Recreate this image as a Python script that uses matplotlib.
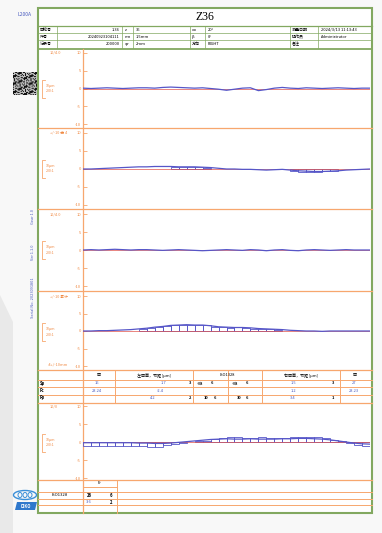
import numpy as np
import matplotlib.pyplot as plt
from matplotlib.patches import Ellipse, Polygon, Rectangle

plt.rcParams['font.family'] = ['Noto Sans CJK SC', 'DejaVu Sans']

W, H = 382, 533

# ---- values (um) ----
tooth = list(range(1, 37))
edge = [t - 0.5 for t in range(1, 38)]

p1_line = [0.1, 0.0, 0.1, 0.2, 0.1, 0.0, 0.1, 0.2, 0.2, 0.1, 0.3, 0.4, 0.3, 0.2, 0.1, 0.2, 0.0,
           -0.2, -0.5, -0.2, 0.1, 0.2, -0.6, -0.3, 0.1, 0.3, 0.1, 0.0, 0.2, 0.1, 0.0, 0.1, 0.2,
           0.1, 0.0, 0.1, 0.1]
p2_line = [0.0, 0.0, 0.1, 0.2, 0.3, 0.4, 0.5, 0.6, 0.6, 0.7, 0.7, 0.7, 0.6, 0.6, 0.6, 0.5, 0.4,
           0.2, 0.0, 0.0, -0.1, -0.1, -0.2, -0.3, -0.2, -0.1, -0.3, -0.5, -0.6, -0.7, -0.7, -0.6,
           -0.5, -0.3, -0.2, -0.1, 0.0]
p2_bars = [0, 0, 0, 0, 0, 0, 0, 0, 0, 0, 0, 0.5, 0.6, 0.6, 0.5, 0.4, 0, 0, 0, 0, 0, 0, 0, 0,
           0, 0, -0.5, -0.7, -0.8, -0.7, -0.6, -0.5, 0, 0, 0, 0]
p3_line = [0.0, 0.1, 0.0, 0.1, 0.2, 0.1, 0.0, 0.1, 0.1, 0.0, -0.1, 0.0, 0.1, 0.0, -0.1, -0.2,
           -0.1, 0.0, 0.1, 0.0, -0.1, 0.1, 0.0, -0.2, 0.0, 0.1, -0.1, -0.2, 0.0, 0.1, 0.0, -0.1,
           0.0, 0.1, 0.0, 0.0, 0.0]
p4_line = [0.0, 0.0, 0.1, 0.1, 0.2, 0.3, 0.4, 0.6, 0.8, 1.1, 1.3, 1.6, 1.7, 1.8, 1.7, 1.7, 1.5,
           1.2, 1.1, 1.0, 1.0, 0.9, 0.7, 0.6, 0.5, 0.4, 0.2, 0.1, 0.0, 0.0, -0.1, 0.0, 0.0, 0.0,
           0.0, 0.0, 0.0]
p4_bars = [0, 0, 0, 0, 0, 0, 0, 0.6, 0.9, 1.1, 1.4, 1.7, 1.8, 1.7, 1.8, 1.6, 1.2, 1.1, 1.0, 1.1,
           0.9, 0.7, 0.6, 0.5, 0.4, 0, 0, 0, 0, 0, 0, 0, 0, 0, 0, 0]
p5_line = [-0.2, -0.2, -0.2, -0.2, -0.2, -0.2, -0.2, -0.3, -0.3, -0.4, -0.4, -0.3, -0.1, 0.1,
           0.3, 0.5, 0.7, 0.8, 0.9, 0.8, 0.8, 0.9, 0.8, 0.8, 0.8, 0.9, 0.9, 1.0, 1.0, 0.9, 0.8,
           0.6, 0.3, 0.0, -0.3, -0.5, -0.6]
p5_bars = [-1.1, -1.1, -1.1, -1.1, -1.1, -1.1, -1.1, -1.2, -1.3, -1.3, -0.8, -0.5, -0.2, 0,
           0.2, 0.3, 0.8, 1.0, 1.4, 1.4, 1.1, 1.2, 1.5, 1.1, 1.0, 1.1, 1.4, 1.5, 1.5, 1.3, 1.0,
           0.6, 0.2, -0.3, -0.8, -1.0]
ticks = [10, 5, 0, -5, -10]

header_rows = [
    ['齿轮号', '1:36', 'z', '36', 'αn', '20°', '测量日期', '2024/3/13 11:13:43'],
    ['件号', '20240923104111', 'mn', '1.5mm', 'β', '0°', '操作员', 'Administrator'],
    ['记录号', '200000', 'φr', '2mm', '方向', 'RIGHT', '备注', ''],
]
table_head = ['齿', '左齿面，节距 [μm]', 'ISO1328', '右齿面，节距 [μm]', '齿']
row_names = ['Sp', 'Fc', 'Fp']

ORANGE = '#f7a76e'
ORTXT = '#f08a44'
GREEN = '#82a860'
BLUE = '#5656c8'
RED = '#e2554c'
TBLUE = '#4a5cc0'

fig = plt.figure(figsize=(W / 100, H / 100), dpi=100, facecolor='#f8f8f8')

ov = fig.add_axes([0, 0, 1, 1])
ov.set_xlim(0, W)
ov.set_ylim(H, 0)
ov.axis('off')

# photo background
ov.add_patch(Polygon([(0, 295), (13, 322), (13, 533), (0, 533)], color='#e9e9e9', lw=0))
ov.add_patch(Rectangle((38, 8), 334, 505, facecolor='white', edgecolor=GREEN, lw=1.5))
ov.text(17, 14, 'L200A', fontsize=3.6, color=TBLUE, va='center')

# title + header
ov.plot([38, 372], [26, 26], color=GREEN, lw=0.9)
ov.text(205, 17, 'Z36', fontsize=8.5, family='Liberation Serif', ha='center', va='center')
for y in [33, 40]:
    ov.plot([38, 372], [y, y], color=GREEN, lw=0.5)
ov.plot([38, 372], [48.5, 48.5], color=GREEN, lw=1.3)
for x in [57, 122, 133, 190, 205, 290, 318]:
    ov.plot([x, x], [26, 48], color=GREEN, lw=0.5)
hx = [(40, 'left'), (120, 'right'), (125, 'left'), (136, 'left'), (192, 'left'),
      (208, 'left'), (292, 'left'), (321, 'left')]
for r, row in enumerate(header_rows):
    for (x, ha), s in zip(hx, row):
        ov.text(x, 29.8 + 7 * r, s, fontsize=2.9, ha=ha, va='center')

# noise block and side text
pat = np.array([[((i * i + 3 * j + i * j) % 5 < 2) ^ ((i + 2 * j) % 3 == 0) for j in range(22)]
                for i in range(22)], dtype=float)
ov.imshow(pat, cmap='Greys', extent=[13, 37, 95, 72], aspect='auto', vmin=-0.6, vmax=1.1)
ov.set_xlim(0, W)
ov.set_ylim(H, 0)
for y, s in [(216, 'Gear 1.0'), (252, 'Ver 1.1.0'), (298, 'Serial No. 2023091801')]:
    ov.text(33, y, s, fontsize=2.8, color=TBLUE, rotation=90, ha='center', va='center')

# separators and axis line
for y in [128, 209, 291, 370, 402.5, 480]:
    ov.plot([38, 372], [y, y], color=ORANGE, lw=0.9)
ov.plot([83, 83], [49, 513], color=ORANGE, lw=0.9)

# panel labels and scale brackets
labels = [('10/4.0', 53, 89), ('+/-10 齿 4', 133, 169), ('10/4.0', 214, 250),
          ('+/-10 累计', 296, 332), ('10/0', 406, 443)]
for s, ly, cy in labels:
    ov.text(50, ly, s, fontsize=2.8, color=ORTXT, va='center')
    ov.plot([45, 42, 42, 45], [cy - 9, cy - 9, cy + 9, cy + 9], color=ORANGE, lw=0.6)
    ov.text(46, cy - 3, '10μm', fontsize=2.6, color=ORTXT, va='center')
    ov.text(46, cy + 2.5, '200:1', fontsize=2.6, color=ORTXT, va='center')
ov.text(48, 365, '-4+/-10mm', fontsize=2.8, color=ORTXT, va='center')

# pitch table
for y in [380, 387, 394.5]:
    ov.plot([38, 372], [y, y], color=ORANGE, lw=0.7)
for x in [115, 193, 228, 262, 340]:
    ov.plot([x, x], [370, 402.5], color=ORANGE, lw=0.7)
for x, s in zip([99, 154, 227, 301, 355], table_head):
    ov.text(x, 375.5, s, fontsize=2.9, ha='center', va='center')
cells = [
    [(97, '16', TBLUE), (163, '1.7', TBLUE), (190, '3', 'k'), (200, '≤8', 'k'), (212, '6', 'k'),
     (235, '≤8', 'k'), (247, '6', 'k'), (293, '1.5', TBLUE), (333, '3', 'k'), (354, '27', TBLUE)],
    [(97, '23.24', TBLUE), (160, '-2.4', TBLUE), (293, '1.2', TBLUE), (354, '23.23', TBLUE)],
    [(153, '4.2', TBLUE), (190, '2', 'k'), (206, '10', 'k'), (215, '6', 'k'), (239, '30', 'k'),
     (247, '6', 'k'), (293, '3.4', TBLUE), (333, '1', 'k')],
]
for r, (name, row) in enumerate(zip(row_names, cells)):
    yy = 383.5 + 7.2 * r
    ov.text(40, yy, name, fontsize=3, fontweight='bold', va='center')
    for x, s, c in row:
        ov.text(x, yy, s, fontsize=2.9, color=c, ha='center', va='center',
                fontweight='bold' if c == 'k' else 'normal')

# bottom table
ov.plot([83, 117], [486.5, 486.5], color=ORANGE, lw=0.7)
for y in [492, 498.5, 505]:
    ov.plot([38, 372], [y, y], color=ORANGE, lw=0.7)
ov.plot([117, 117], [480, 513], color=ORANGE, lw=0.7)
ov.text(100, 483.5, 'Fr', fontsize=3, ha='center', va='center', fontstyle='italic')
ov.text(60, 495.5, 'ISO1328', fontsize=3, ha='center', va='center')
ov.text(89, 495.5, '26', fontsize=3, ha='center', va='center', fontweight='bold')
ov.text(111, 495.5, '6', fontsize=3, ha='center', va='center', fontweight='bold')
ov.text(89, 502, '3.6', fontsize=3, ha='center', va='center', color=TBLUE)
ov.text(111, 502, '2', fontsize=3, ha='center', va='center', fontweight='bold')

# logo
ov.add_patch(Ellipse((25, 495), 23, 9, fill=False, edgecolor='#3a8fd8', lw=1.0))
for dx in [-5, 0, 5]:
    ov.add_patch(Ellipse((25 + dx, 495), 4, 5, fill=False, edgecolor='#3a8fd8', lw=0.7))
ov.add_patch(Polygon([(15, 510), (17, 502), (37, 502), (35, 510)], color='#2f78cc', lw=0))
ov.text(26, 506, 'DIKO', fontsize=3, color='white', ha='center', va='center',
        fontweight='bold', fontstyle='italic')


def px_axes(x0, y0, x1, y1):
    return fig.add_axes([x0 / W, 1 - y1 / H, (x1 - x0) / W, (y1 - y0) / H])


panels = [(p1_line, None, 53, 124), (p2_line, p2_bars, 133, 205), (p3_line, None, 214, 286),
          (p4_line, p4_bars, 296, 366), (p5_line, p5_bars, 406, 478)]
for line, bars, top, bot in panels:
    ax = px_axes(83, top, 370, bot)
    ax.patch.set_alpha(0)
    for sp in ax.spines.values():
        sp.set_visible(False)
    ax.set_xlim(0.5, 36.5)
    ax.set_ylim(-10, 10)
    ax.set_xticks([])
    ax.set_yticks(ticks)
    ax.set_yticklabels([str(t) for t in ticks])
    ax.tick_params(axis='y', direction='in', length=3, width=0.6, color=ORANGE,
                   labelcolor=ORTXT, labelsize=3, pad=1.5)
    ax.axhline(0, color=RED, lw=0.5)
    if bars is not None:
        xs = [t for t, v in zip(tooth, bars) if v != 0]
        vs = [v for v in bars if v != 0]
        ax.bar(xs, vs, width=1, fill=False, edgecolor=BLUE, lw=0.6)
    ax.plot(edge, line, color=BLUE, lw=0.9)

fig.savefig('out.png', dpi=100, facecolor=fig.get_facecolor())
